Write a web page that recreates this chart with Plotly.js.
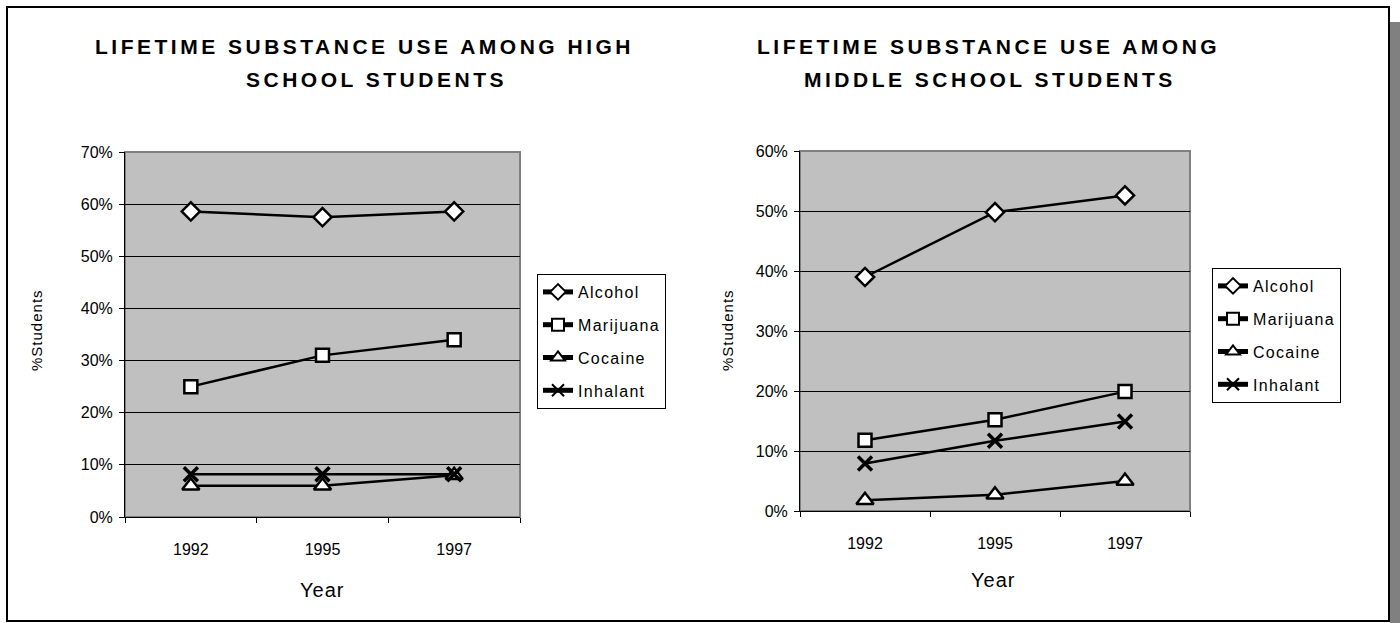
<!DOCTYPE html>
<html>
<head>
<meta charset="utf-8">
<script src="https://cdn.plot.ly/plotly-3.0.1.min.js"></script>
<style>
  html, body { margin: 0; padding: 0; background: #ffffff; }
  #chart { width: 1400px; height: 623px; }
</style>
</head>
<body>
<div id="chart"></div>
<script>
// ---- Data ----
const years = ["1992", "1995", "1997"];
const seriesNames = ["Alcohol", "Marijuana", "Cocaine", "Inhalant"];

// High school (%)
const hsAlcohol   = [58.6, 57.5, 58.6];
const hsMarijuana = [25.0, 31.0, 34.0];
const hsCocaine   = [6.0, 6.0, 8.0];
const hsInhalant  = [8.2, 8.2, 8.2];

// Middle school (%)
const msAlcohol   = [39.0, 49.8, 52.6];
const msMarijuana = [11.8, 15.2, 19.9];
const msCocaine   = [1.8, 2.7, 5.0];
const msInhalant  = [7.9, 11.7, 14.9];

const hsTitle = ["LIFETIME SUBSTANCE USE AMONG HIGH", "SCHOOL STUDENTS"];
const msTitle = ["LIFETIME SUBSTANCE USE AMONG", "MIDDLE SCHOOL STUDENTS"];
const xTitle = "Year";
const yTitle = "%Students";

// ---- Styling ----
const W = 1400, H = 623;
const px = v => v / W;
const py = v => 1 - v / H;
const FONT = "Arial, 'Liberation Sans', sans-serif";

const symbols = {
  Alcohol:   {symbol: "diamond", size: 14},
  Marijuana: {symbol: "square", size: 13},
  Cocaine:   {symbol: "triangle-up", size: 15},
  Inhalant:  {symbol: "x-thin", size: 14}
};

function spaced(t, s) {
  return '<span style="letter-spacing:' + s + 'px">' + t + '</span>';
}

function mk(name, y, xa, ya, legend, grp) {
  const s = symbols[name];
  const isX = s.symbol === "x-thin";
  return {
    type: "scatter", mode: "lines+markers",
    name: spaced(name, 1.3), x: years, y: y, xaxis: xa, yaxis: ya,
    legend: legend, legendgroup: grp + name,
    line: {color: "#000000", width: 2.5},
    marker: {
      symbol: s.symbol, size: s.size,
      color: isX ? "#000000" : "#ffffff",
      line: {color: "#000000", width: isX ? 3.5 : 2.5}
    },
    hoverinfo: "x+y+name"
  };
}

const hsSeries = [hsAlcohol, hsMarijuana, hsCocaine, hsInhalant];
const msSeries = [msAlcohol, msMarijuana, msCocaine, msInhalant];
const traces = [];
seriesNames.forEach((n, i) => traces.push(mk(n, hsSeries[i], "x", "y", "legend", "hs")));
seriesNames.forEach((n, i) => traces.push(mk(n, msSeries[i], "x2", "y2", "legend2", "ms")));

function xAxis(domain, anchor) {
  return {
    domain: domain, anchor: anchor, type: "category",
    range: [-0.5, 2.5], tickson: "boundaries",
    ticks: "outside", ticklen: 5, tickcolor: "#000", tickwidth: 1,
    showline: true, linecolor: "#000", linewidth: 1,
    showgrid: false, zeroline: false,
    ticklabelstandoff: 18,
    tickfont: {family: FONT, size: 16, color: "#000"},
    fixedrange: true
  };
}
function yAxis(domain, anchor, max) {
  return {
    domain: domain, anchor: anchor,
    range: [0, max], dtick: 10, tick0: 0, ticksuffix: "%",
    ticks: "outside", ticklen: 5, tickcolor: "#000", tickwidth: 1,
    showline: true, linecolor: "#000", linewidth: 1,
    showgrid: true, gridcolor: "#000000", gridwidth: 1,
    zeroline: false, ticklabelstandoff: 3,
    tickfont: {family: FONT, size: 16, color: "#000"},
    fixedrange: true
  };
}

const titleFont = {family: FONT, size: 21, color: "#000", weight: "bold"};
function titleAnn(text, x, y) {
  return {
    xref: "paper", yref: "paper", x: px(x), y: py(y),
    xanchor: "center", yanchor: "middle", showarrow: false,
    text: spaced(text, 3.5),
    font: titleFont
  };
}
function ytAnn(x, y) {
  return {
    xref: "paper", yref: "paper", x: px(x), y: py(y),
    xanchor: "center", yanchor: "middle", showarrow: false, textangle: -90,
    text: spaced(yTitle, 1),
    font: {family: FONT, size: 15, color: "#000"}
  };
}
function xtAnn(x, y) {
  return {
    xref: "paper", yref: "paper", x: px(x), y: py(y),
    xanchor: "center", yanchor: "middle", showarrow: false,
    text: spaced(xTitle, 1),
    font: {family: FONT, size: 20, color: "#000"}
  };
}

function legendCfg(x, y) {
  return {
    x: px(x), y: py(y), xanchor: "left", yanchor: "top",
    bgcolor: "#ffffff", bordercolor: "#000", borderwidth: 1,
    font: {family: FONT, size: 16, color: "#000"},
    itemsizing: "constant",
    tracegroupgap: 9, itemclick: false, itemdoubleclick: false
  };
}

const layout = {
  width: W, height: H,
  margin: {l: 0, r: 0, t: 0, b: 0, pad: 0},
  paper_bgcolor: "#ffffff",
  plot_bgcolor: "#c0c0c0",
  showlegend: true,
  font: {family: FONT, color: "#000"},
  xaxis: xAxis([px(125), px(520)], "y"),
  yaxis: yAxis([py(517), py(152)], "x", 70),
  xaxis2: xAxis([px(800), px(1190)], "y2"),
  yaxis2: yAxis([py(511), py(151)], "x2", 60),
  legend: legendCfg(537, 274),
  legend2: legendCfg(1212, 268),
  annotations: [
    titleAnn(hsTitle[0], 364, 47),
    titleAnn(hsTitle[1], 376, 79),
    titleAnn(msTitle[0], 988, 47),
    titleAnn(msTitle[1], 990, 79),
    ytAnn(37, 330),
    ytAnn(728, 330),
    xtAnn(322, 590),
    xtAnn(993, 580)
  ],
  shapes: [
    {type: "rect", xref: "x domain", yref: "y domain", x0: 0, x1: 1, y0: 0, y1: 1,
     line: {color: "#808080", width: 2}, layer: "below"},
    {type: "rect", xref: "x2 domain", yref: "y2 domain", x0: 0, x1: 1, y0: 0, y1: 1,
     line: {color: "#808080", width: 2}, layer: "below"},
    {type: "rect", xref: "paper", yref: "paper", x0: px(1390), x1: px(1400), y0: py(623), y1: py(22),
     fillcolor: "#808080", line: {width: 0}, layer: "below"},
    {type: "rect", xref: "paper", yref: "paper", x0: px(7), x1: px(1389), y0: py(621), y1: py(7),
     line: {color: "#000000", width: 2}, fillcolor: "rgba(0,0,0,0)", layer: "above"}
  ]
};

Plotly.newPlot("chart", traces, layout, {displayModeBar: false, responsive: false});
</script>
</body>
</html>
